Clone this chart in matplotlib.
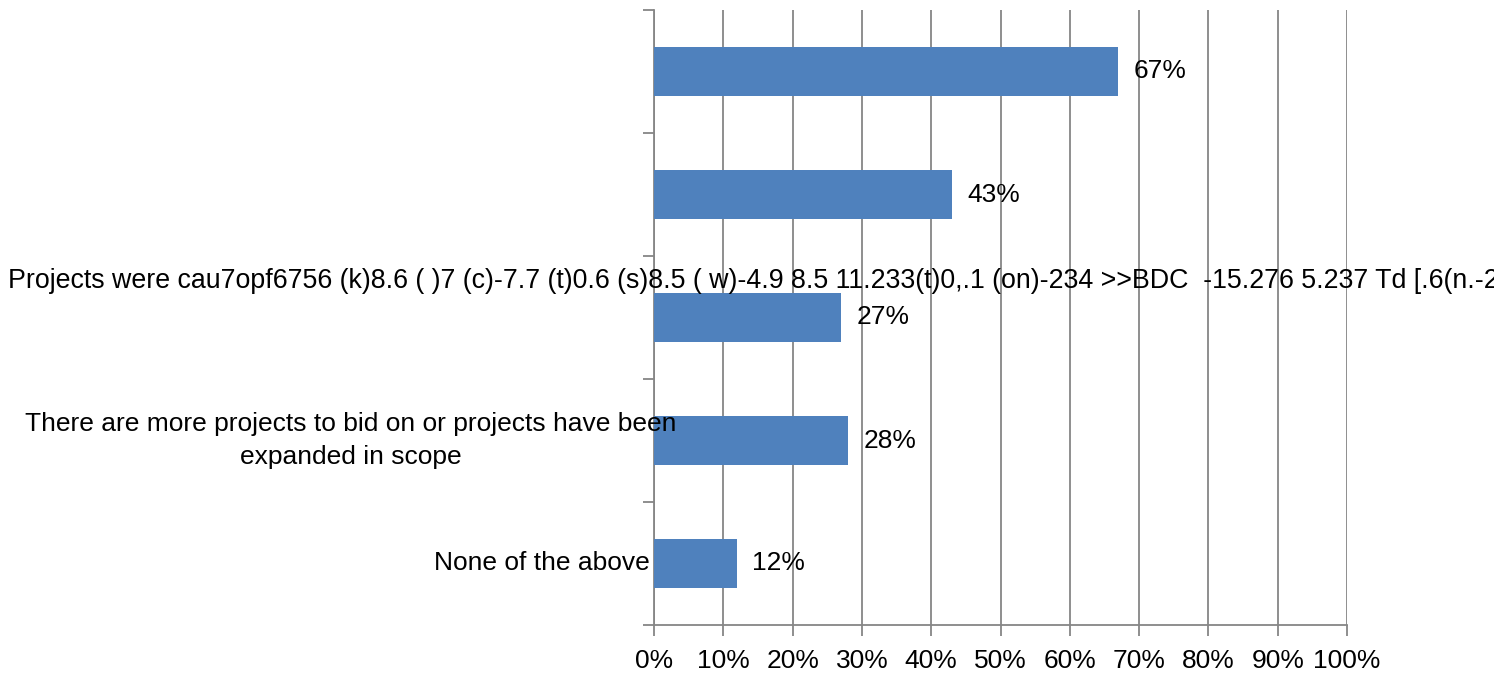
import matplotlib
matplotlib.use("Agg")
import matplotlib.pyplot as plt
import matplotlib.transforms as mtransforms
from matplotlib.ticker import FuncFormatter

# Survey answers, top to bottom
categories = [
    "",
    "",
    "Projects were cau7opf6756 (k)8.6 ( )7 (c)-7.7 (t)0.6 (s)8.5 ( w)-4.9 8.5 11.233(t)0,.1 (on)-234 >>BDC  -15.276 5.237 Td [.6(n.-2",
    "There are more projects to bid on or projects have been\nexpanded in scope",
    "None of the above",
]
values = [67, 43, 27, 28, 12]
bar_labels = ["67%", "43%", "27%", "28%", "12%"]
x_ticks = [0, 10, 20, 30, 40, 50, 60, 70, 80, 90, 100]

plt.rcParams["font.family"] = ["Liberation Sans", "DejaVu Sans"]
FS = 19
GRID = "#868686"
BAR = "#4F81BD"

fig = plt.figure(figsize=(14.94, 6.75), dpi=100)
ax = fig.add_axes([654 / 1494, 1 - 625 / 675, (1347 - 654) / 1494, (625 - 10) / 675])

ypos = list(range(len(values)))
ax.barh(ypos, values, height=0.4, color=BAR, zorder=3)
ax.set_ylim(len(values) - 0.5, -0.5)
ax.set_xlim(0, 100)

# value labels next to each bar
for y, v, lab in zip(ypos, values, bar_labels):
    ax.annotate(lab, (v, y), xytext=(11, 0), textcoords="offset points",
                ha="left", va="center", fontsize=FS, zorder=4)

# category labels: drawn by hand so they can overflow like the original
fig_x = mtransforms.blended_transform_factory(fig.transFigure, ax.transData)
ax.text(8 / 1494, 2 - 0.3, categories[2], transform=fig_x, ha="left", va="center",
        fontsize=19.3, clip_on=False, zorder=5)
ax.text(351 / 1494, 3, categories[3], transform=fig_x, ha="center", va="center",
        multialignment="center", fontsize=FS, zorder=5, linespacing=1.5)
ax.text(-0.0065, 4, categories[4],
        transform=mtransforms.blended_transform_factory(ax.transAxes, ax.transData),
        ha="right", va="center", fontsize=FS, zorder=5)

# y ticks at category boundaries, no labels
ax.set_yticks([i - 0.5 for i in range(len(values) + 1)])
ax.set_yticklabels([])
ax.tick_params(axis="y", length=8, width=1.3, color=GRID, direction="out")

ax.set_xticks(x_ticks)
ax.xaxis.set_major_formatter(FuncFormatter(lambda v, p: f"{v:.0f}%"))
ax.tick_params(axis="x", length=8, width=1.3, color=GRID, direction="out",
               labelsize=FS, pad=9)
ax.grid(axis="x", color=GRID, linewidth=1.3, zorder=0)

for s in ["top", "right"]:
    ax.spines[s].set_visible(False)
for s in ["left", "bottom"]:
    ax.spines[s].set_color(GRID)
    ax.spines[s].set_linewidth(1.3)
    ax.spines[s].set_zorder(2)

fig.savefig("out.png", dpi=100)
